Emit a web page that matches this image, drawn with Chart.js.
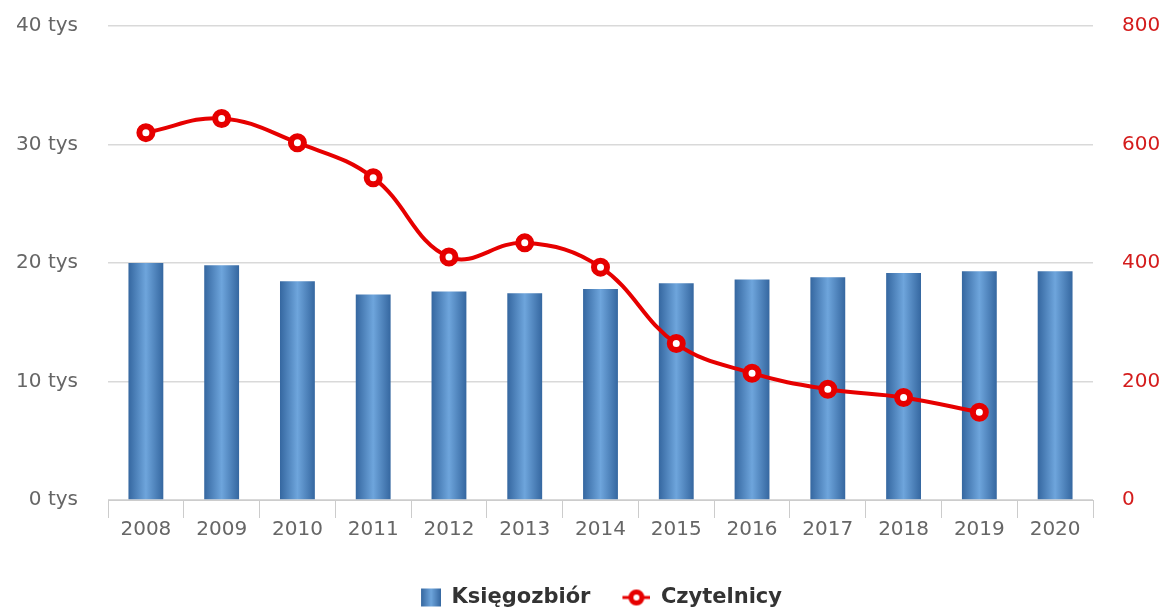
<!DOCTYPE html>
<html>
<head>
<meta charset="utf-8">
<script src="https://cdn.jsdelivr.net/npm/chart.js@4/dist/chart.umd.min.js"></script>
<style>
  html, body { margin: 0; padding: 0; background: #fff; }
  #wrap { width: 1167px; height: 611px; position: relative; }
</style>
</head>
<body>
<div id="wrap"><canvas id="wykres"></canvas></div>
<script>
// dane
var lata = ['2008','2009','2010','2011','2012','2013','2014','2015','2016','2017','2018','2019','2020'];
var ksiegozbior = [20000, 19800, 18450, 17350, 17600, 17450, 17800, 18300, 18600, 18800, 19150, 19300, 19300];
var czytelnicy = [620, 644, 603, 544, 410, 434, 393, 264, 214, 187, 173, 148, null];
var lewaOs = [0, 10000, 20000, 30000, 40000];
var prawaOs = [0, 200, 400, 600, 800];

var CZERWONY = '#e60000';
var szary = '#666666';
var SZER_IKONY = 56;

function gradientSlupka(c, x0, x1) {
  var g = c.createLinearGradient(x0, 0, x1, 0);
  g.addColorStop(0, '#3567a0');
  g.addColorStop(0.5, '#6ea5dc');
  g.addColorStop(1, '#3567a0');
  return g;
}

// ikonki legendy (wyrownane do prawej)
function ikonaSlupka() {
  var cv = document.createElement('canvas');
  cv.width = SZER_IKONY; cv.height = 20;
  var c = cv.getContext('2d');
  var x0 = SZER_IKONY - 20;
  c.fillStyle = gradientSlupka(c, x0, SZER_IKONY);
  c.fillRect(x0, 1, 20, 18);
  return cv;
}
function ikonaLinii() {
  var cv = document.createElement('canvas');
  cv.width = SZER_IKONY; cv.height = 20;
  var c = cv.getContext('2d');
  var x0 = SZER_IKONY - 28;
  c.strokeStyle = CZERWONY;
  c.lineWidth = 3;
  c.beginPath(); c.moveTo(x0, 10); c.lineTo(SZER_IKONY, 10); c.stroke();
  c.lineWidth = 5;
  c.fillStyle = '#fff';
  c.beginPath(); c.arc(x0 + 14, 10, 5.5, 0, Math.PI * 2); c.fill(); c.stroke();
  return cv;
}

var ctx = document.getElementById('wykres').getContext('2d');

var config = {
  type: 'bar',
  data: {
    labels: lata,
    datasets: [
      {
        label: 'Księgozbiór',
        data: ksiegozbior,
        yAxisID: 'y',
        order: 1,
        barPercentage: 0.46,
        categoryPercentage: 1,
        backgroundColor: function (context) {
          var chart = context.chart;
          var sx = chart.scales.x;
          if (!sx || !chart.chartArea) return '#4f86c6';
          var x = sx.getPixelForValue(context.dataIndex);
          var w = (sx.width / lata.length) * 0.46;
          return gradientSlupka(chart.ctx, x - w / 2, x + w / 2);
        },
        borderWidth: 0
      },
      {
        type: 'line',
        label: 'Czytelnicy',
        data: czytelnicy,
        yAxisID: 'y1',
        order: 0,
        borderColor: CZERWONY,
        borderWidth: 4,
        tension: 0.4,
        pointRadius: 6.5,
        pointBorderWidth: 6,
        pointBackgroundColor: '#ffffff',
        pointBorderColor: CZERWONY,
        pointHoverRadius: 6.5
      }
    ]
  },
  options: {
    responsive: true,
    maintainAspectRatio: false,
    animation: false,
    layout: { padding: { top: 26, left: 0, right: 0, bottom: -7 } },
    scales: {
      x: {
        offset: true,
        grid: {
          offset: true,
          drawOnChartArea: false,
          drawTicks: true,
          tickLength: 18,
          color: '#cccccc'
        },
        border: { display: true, color: '#cccccc' },
        ticks: {
          color: szary,
          font: { family: 'DejaVu Sans', size: 20 },
          padding: 0,
          maxRotation: 0
        },
        afterFit: function (s) { s.height = 83; }
      },
      y: {
        position: 'left',
        min: 0,
        max: 40000,
        afterBuildTicks: function (s) {
          s.ticks = lewaOs.map(function (v) { return { value: v }; });
        },
        grid: { color: '#d9d9d9', drawTicks: true, tickLength: 30, tickColor: 'rgba(0,0,0,0)', lineWidth: 1.5 },
        border: { display: false },
        ticks: {
          color: szary,
          font: { family: 'DejaVu Sans', size: 20 },
          padding: 0,
          callback: function (v) { return (v / 1000) + ' tys'; }
        },
        afterFit: function (s) { s.width = 108; }
      },
      y1: {
        position: 'right',
        min: 0,
        max: 800,
        afterBuildTicks: function (s) {
          s.ticks = prawaOs.map(function (v) { return { value: v }; });
        },
        grid: { drawOnChartArea: false, drawTicks: true, tickLength: 29, tickColor: 'rgba(0,0,0,0)' },
        border: { display: false },
        ticks: {
          color: '#d41c1c',
          font: { family: 'DejaVu Sans', size: 20 },
          padding: 0
        },
        afterFit: function (s) { s.width = 74; }
      }
    },
    plugins: {
      tooltip: { enabled: false },
      legend: {
        position: 'bottom',
        labels: {
          usePointStyle: true,
          pointStyleWidth: SZER_IKONY,
          color: '#333333',
          font: { family: 'DejaVu Sans', size: 21, weight: 'bold' },
          padding: 4,
          generateLabels: function (chart) {
            return [
              { text: 'Księgozbiór', pointStyle: ikonaSlupka(), datasetIndex: 0, fontColor: '#333333', lineWidth: 0, strokeStyle: 'transparent', fillStyle: 'transparent' },
              { text: 'Czytelnicy', pointStyle: ikonaLinii(), datasetIndex: 1, fontColor: '#333333', lineWidth: 0, strokeStyle: 'transparent', fillStyle: 'transparent' }
            ];
          }
        }
      }
    }
  }
};

var grafico = new Chart(ctx, config);
</script>
</body>
</html>
